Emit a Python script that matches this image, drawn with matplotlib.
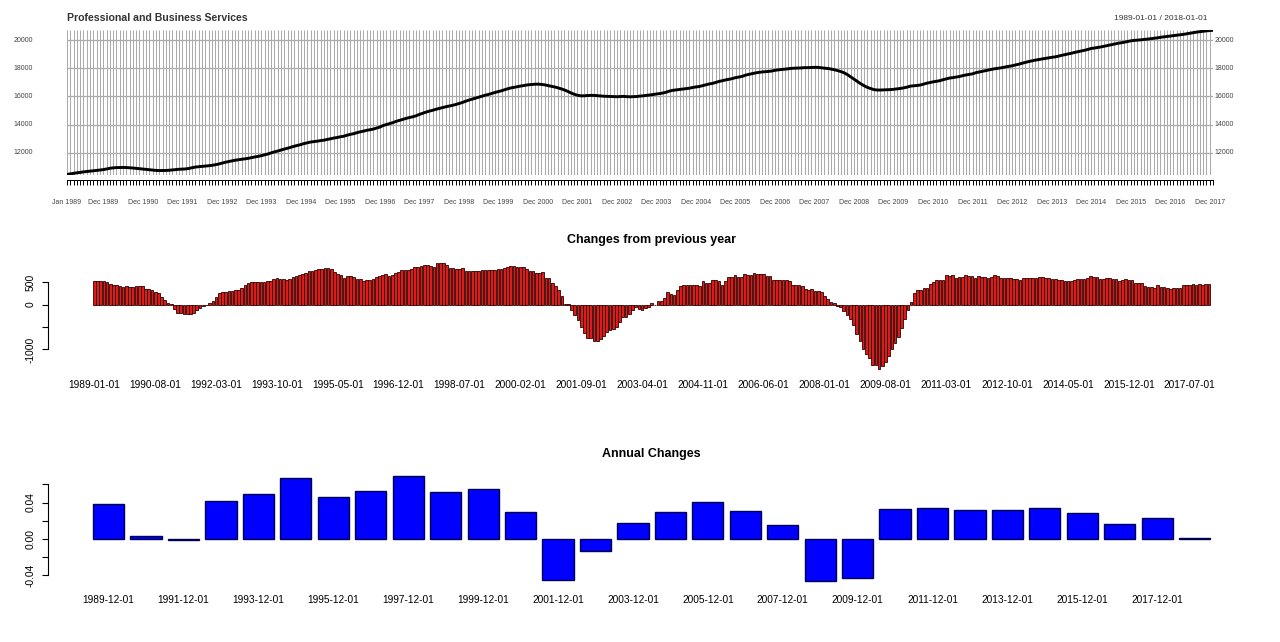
import numpy as np
import pandas as pd
import matplotlib
matplotlib.use('Agg')
import matplotlib.pyplot as plt
from matplotlib.transforms import blended_transform_factory

plt.rcParams['font.family'] = ['Liberation Sans', 'DejaVu Sans']

# ---------------- data ----------------
top_title = "Professional and Business Services"
date_range_text = "1989-01-01 / 2018-01-01"
mid_title = "Changes from previous year"
bot_title = "Annual Changes"

# monthly employment level (thousands), 1989-01 .. 2018-01
level = [
    10460, 10500, 10540, 10575, 10610, 10640, 10665, 10695, 10720, 10745, 10775, 10800,  # 1989
    10850, 10895, 10925, 10945, 10950, 10955, 10950, 10935, 10915, 10890, 10860, 10835,  # 1990
    10820, 10790, 10760, 10745, 10735, 10735, 10740, 10755, 10780, 10805, 10825, 10835,  # 1991
    10850, 10885, 10935, 10985, 11010, 11030, 11050, 11075, 11105, 11145, 11195, 11260,  # 1992
    11320, 11370, 11420, 11465, 11500, 11530, 11565, 11600, 11650, 11700, 11740, 11790,  # 1993
    11850, 11910, 11990, 12060, 12120, 12190, 12260, 12320, 12390, 12460, 12520, 12580,  # 1994
    12650, 12705, 12760, 12790, 12820, 12860, 12890, 12940, 12990, 13040, 13080, 13130,  # 1995
    13170, 13240, 13300, 13350, 13420, 13480, 13530, 13590, 13630, 13680, 13750, 13820,  # 1996
    13930, 14000, 14070, 14140, 14230, 14300, 14370, 14440, 14500, 14550, 14620, 14720,  # 1997
    14800, 14880, 14950, 15010, 15080, 15140, 15200, 15260, 15310, 15360, 15420, 15490,  # 1998
    15560, 15650, 15730, 15800, 15870, 15940, 16010, 16080, 16140, 16210, 16280, 16340,  # 1999
    16400, 16480, 16550, 16610, 16650, 16700, 16740, 16780, 16820, 16840, 16860, 16870,  # 2000
    16850, 16820, 16770, 16720, 16670, 16610, 16540, 16460, 16360, 16250, 16150, 16080,  # 2001
    16040, 16040, 16060, 16070, 16070, 16050, 16030, 16010, 16000, 15990, 15980, 15975,  # 2002
    15990, 16000, 15980, 15970, 15980, 15990, 16020, 16040, 16070, 16100, 16130, 16170,  # 2003
    16200, 16240, 16300, 16380, 16430, 16460, 16490, 16520, 16550, 16580, 16630, 16670,  # 2004
    16700, 16760, 16820, 16880, 16920, 16990, 17060, 17110, 17170, 17210, 17260, 17330,  # 2005
    17370, 17420, 17500, 17560, 17610, 17660, 17700, 17730, 17750, 17770, 17800, 17850,  # 2006
    17880, 17910, 17930, 17960, 17990, 18000, 18010, 18020, 18040, 18040, 18050, 18060,  # 2007
    18060, 18030, 18000, 17980, 17940, 17890, 17830, 17760, 17670, 17540, 17380, 17220,  # 2008
    17060, 16900, 16760, 16640, 16560, 16480, 16450, 16450, 16460, 16470, 16480, 16500,  # 2009
    16530, 16560, 16600, 16650, 16720, 16750, 16770, 16800, 16860, 16930, 16980, 17030,  # 2010
    17070, 17110, 17180, 17240, 17300, 17330, 17370, 17410, 17470, 17520, 17560, 17600,  # 2011
    17680, 17730, 17780, 17830, 17880, 17930, 17970, 18000, 18040, 18090, 18130, 18170,  # 2012
    18230, 18280, 18350, 18410, 18470, 18520, 18570, 18610, 18650, 18690, 18730, 18770,  # 2013
    18800, 18850, 18910, 18960, 19010, 19060, 19120, 19170, 19220, 19270, 19330, 19400,  # 2014
    19430, 19470, 19510, 19560, 19610, 19660, 19710, 19760, 19800, 19840, 19890, 19940,  # 2015
    19970, 19990, 20010, 20040, 20060, 20090, 20120, 20150, 20190, 20220, 20250, 20280,  # 2016
    20310, 20340, 20370, 20400, 20440, 20480, 20520, 20560, 20590, 20620, 20650, 20670,  # 2017
    20690,                                                                               # 2018
]

# change from the same month of the previous year, 1989-01 .. 2018-01
yoy = [
    530, 530, 530, 525, 500, 455, 440, 440, 425, 400, 415, 395,            # 1989
    395, 425, 420, 410, 355, 350, 335, 290, 255, 180, 105, 45,             # 1990
    10, -100, -190, -195, -215, -220, -220, -185, -120, -70, -30, -5,      # 1991
    25, 90, 180, 260, 270, 280, 295, 310, 320, 335, 365, 440,              # 1992
    485, 495, 500, 500, 500, 505, 520, 525, 570, 585, 580, 565,            # 1993
    540, 560, 620, 635, 650, 680, 715, 740, 755, 780, 790, 795,            # 1994
    810, 805, 785, 720, 680, 660, 600, 630, 630, 620, 580, 565,            # 1995
    520, 545, 550, 560, 610, 640, 665, 680, 640, 650, 700, 730,            # 1996
    770, 770, 775, 785, 845, 845, 850, 880, 880, 850, 845, 920,            # 1997
    920, 935, 880, 825, 825, 795, 795, 810, 757, 750, 750, 755,            # 1998
    750, 780, 780, 780, 780, 780, 790, 800, 810, 845, 870, 850,            # 1999
    840, 845, 830, 800, 750, 750, 700, 700, 730, 600, 600, 485,            # 2000
    410, 320, 200, 20, 10, -120, -235, -335, -500, -635, -750, -750,       # 2001
    -820, -820, -765, -710, -615, -560, -540, -500, -385, -275, -275, -200,  # 2002
    -120, -45, -100, -120, -85, -45, 45, 0, 70, 90, 145, 275,              # 2003
    235, 220, 320, 425, 445, 445, 440, 440, 440, 425, 525, 485,            # 2004
    485, 540, 540, 515, 445, 525, 605, 605, 650, 620, 620, 675,            # 2005
    650, 650, 700, 675, 675, 680, 635, 635, 545, 545, 545, 545,            # 2006
    545, 525, 445, 445, 445, 410, 350, 320, 350, 295, 295, 275,            # 2007
    200, 120, 60, 30, -30, -60, -135, -235, -310, -460, -665, -800,        # 2008
    -980, -1110, -1200, -1335, -1340, -1425, -1370, -1275, -1145, -1000, -860, -720,  # 2009
    -520, -330, -130, 60, 260, 320, 330, 370, 375, 470, 500, 545,          # 2010
    545, 545, 660, 635, 650, 600, 615, 615, 650, 645, 635, 590,            # 2011
    630, 615, 615, 600, 620, 660, 635, 585, 585, 590, 590, 560,            # 2012
    560, 540, 585, 600, 600, 585, 585, 605, 605, 590, 590, 560,            # 2013
    560, 545, 545, 525, 515, 515, 540, 560, 560, 560, 600, 635,            # 2014
    620, 605, 575, 575, 590, 590, 575, 575, 530, 545, 560, 540,            # 2015
    540, 485, 485, 485, 410, 400, 395, 370, 445, 400, 385, 360,            # 2016
    350, 370, 370, 370, 440, 445, 445, 460, 440, 460, 440, 455,            # 2017
    450,                                                                   # 2018
]

annual_years = list(range(1989, 2019))
annual = [0.0382, 0.0036, -0.0008, 0.0415, 0.0495, 0.0669, 0.0455, 0.0527,
          0.0691, 0.0516, 0.0545, 0.0295, -0.0451, -0.0135, 0.0178, 0.0291,
          0.0407, 0.0302, 0.0156, -0.0462, -0.0429, 0.0331, 0.0342, 0.0313,
          0.0313, 0.0342, 0.0280, 0.0167, 0.0229, 0.0010]

top_yticks = [12000, 14000, 16000, 18000, 20000]
mid_yticks = [-1000, -500, 0, 500]
mid_ylabels = ['-1000', '', '0', '500']
bot_yticks = [-0.04, -0.02, 0.0, 0.02, 0.04, 0.06]
bot_ylabels = ['-0.04', '', '0.00', '', '0.04', '']

# ---------------- figure ----------------
W, H = 1280, 642
fig = plt.figure(figsize=(W / 100, H / 100), dpi=100)


def ax_px(x0, y0, x1, y1):
    return fig.add_axes([x0 / W, 1 - y1 / H, (x1 - x0) / W, (y1 - y0) / H])


dates = pd.date_range('1989-01-01', periods=len(level), freq='MS')
n = len(level)
idx = np.arange(n)

# ---- top panel: level ----
ax1 = ax_px(67, 30, 1213, 175)
ax1.set_xlim(0, n - 1)
lo, hi = min(level), max(level)
rng = hi - lo
ax1.set_ylim(lo - 0.004 * rng, hi + 0.002 * rng)
xt = ax1.get_xaxis_transform()
ax1.vlines(idx, 0, 1, transform=xt, colors='#ABABAB', lw=0.75, zorder=1)
ax1.hlines(top_yticks, 0, n - 1, colors='#ABABAB', lw=0.9, zorder=1)
ax1.plot(idx, level, color='black', lw=2.1, zorder=3, solid_joinstyle='round')
for s in ax1.spines.values():
    s.set_visible(False)
ax1.set_xticks([])
ax1.set_yticks([])
# month tick marks below the panel
ax1.plot([0, n - 1], [-0.0345, -0.0345], transform=xt, color='black', lw=0.7, clip_on=False)
ax1.vlines(idx, -0.072, -0.0345, transform=xt, colors='black', lw=0.7, clip_on=False)
lab_idx = [0] + [i for i in range(n) if dates[i].month == 12]
for i in lab_idx:
    txt = dates[i].strftime('%b %Y')
    ax1.text(i, -0.193, txt, transform=xt, ha='center', va='center',
             fontsize=5, color='#444444')
yt_l = blended_transform_factory(ax1.transAxes, ax1.transData)
for v in top_yticks:
    ax1.text(-0.0297, v, str(v), transform=yt_l, ha='right', va='center', fontsize=5, color='#444444')
    ax1.text(1.0017, v, str(v), transform=yt_l, ha='left', va='center', fontsize=5, color='#444444')
fig.text(67 / W, 1 - 18 / H, top_title, ha='left', va='center', fontsize=7.6,
         fontweight='bold', color='#333333')
fig.text(1207 / W, 1 - 18 / H, date_range_text, ha='right', va='center', fontsize=6,
         color='#333333')


def r_style_bars(ax, values, labels, step, face, edge, lw, yticks, ylabels, title, xpad):
    m = len(values)
    xs = 0.7 + 1.2 * np.arange(m)
    wl, wr = 0.2, 1.2 * m
    pad = 0.04 * (wr - wl)
    ax.set_xlim(wl - pad, wr + pad)
    ylo, yhi = min(0, min(values)), max(0, max(values))
    ypad = 0.04 * (yhi - ylo)
    ax.set_ylim(ylo - ypad, yhi + ypad)
    ax.bar(xs, values, width=1.0, color=face, edgecolor=edge, linewidth=lw)
    for k in ['top', 'right', 'bottom']:
        ax.spines[k].set_visible(False)
    ax.spines['left'].set_bounds(min(yticks), max(yticks))
    ax.spines['left'].set_linewidth(0.8)
    ax.set_yticks(yticks)
    ax.set_yticklabels(ylabels, rotation=90, va='center')
    ax.tick_params(axis='y', length=4.3, width=0.8, pad=5, labelsize=7.4)
    ax.set_xticks(xs[::step])
    ax.set_xticklabels(labels[::step])
    ax.tick_params(axis='x', length=0, pad=xpad, labelsize=7.3)
    ax.text(0.5, 1 + 18 / (ax.get_position().height * H), title, transform=ax.transAxes,
            ha='center', va='center', fontsize=9, fontweight='bold')


# ---- middle panel: changes from previous year ----
ax2 = ax_px(48.3, 258.4, 1255, 372.8)
mid_labels = [d.strftime('%Y-%m-%d') for d in dates]
r_style_bars(ax2, yoy, mid_labels, 19, '#DC1C18', '#300000', 0.6,
             mid_yticks, mid_ylabels, mid_title, 5)

# ---- bottom panel: annual changes ----
ax3 = ax_px(48.3, 471.8, 1255, 585.2)
bot_labels = [f'{y}-12-01' for y in annual_years]
r_style_bars(ax3, annual, bot_labels, 2, '#0000FF', '#000050', 1.0,
             bot_yticks, bot_ylabels, bot_title, 7)

fig.savefig('out.png', dpi=100)
